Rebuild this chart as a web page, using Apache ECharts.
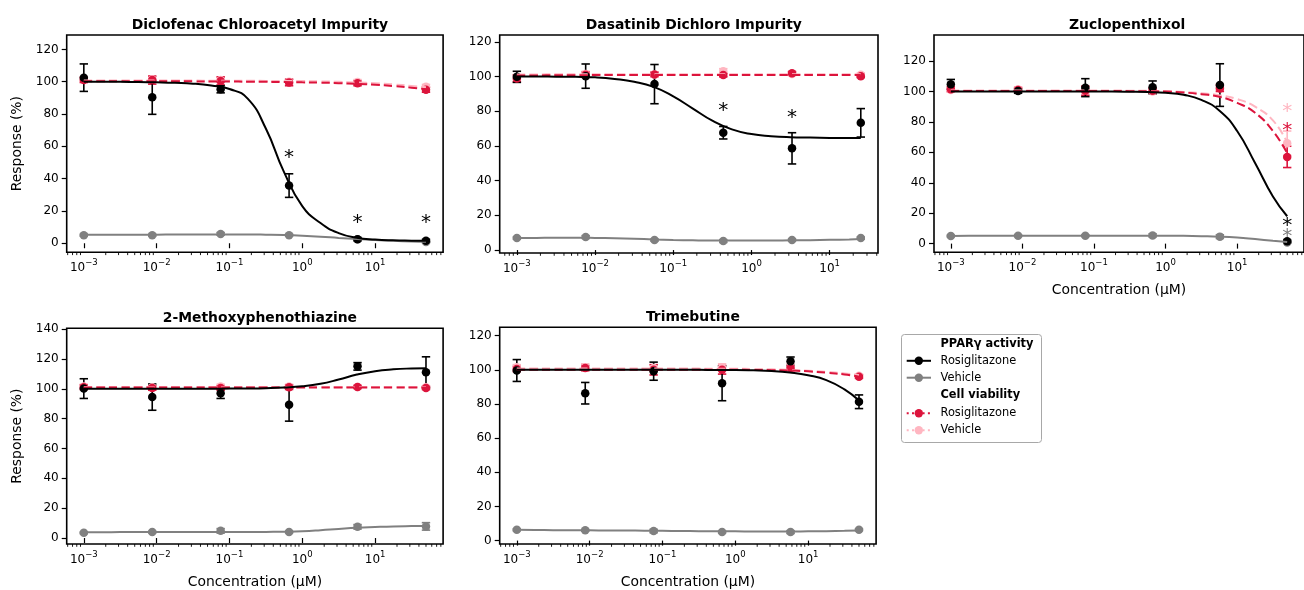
<!DOCTYPE html>
<html><head><meta charset="utf-8">
<script src="https://cdn.jsdelivr.net/npm/echarts@6/dist/echarts.min.js"></script>
<style>html,body{margin:0;padding:0;background:#fff}#c{width:1304px;height:590px}</style>
</head><body><div id="c"></div>
<script>
// ---------------- data ----------------
const concA = [0.001, 0.0087, 0.0757, 0.659, 5.74, 50];
const concB = [0.001, 0.00758, 0.0575, 0.436, 3.30, 25];
const curveXA = [0.001, 0.00178, 0.00316, 0.00562, 0.01, 0.0178, 0.0316, 0.0562, 0.1, 0.178, 0.316, 0.562, 1, 1.78, 3.16, 5.62, 10, 17.8, 31.6, 50];
const curveXB = [0.001, 0.00178, 0.00316, 0.00562, 0.01, 0.0178, 0.0316, 0.0562, 0.1, 0.178, 0.316, 0.562, 1, 1.78, 3.16, 5.62, 10, 17.8, 25];
const yTicks120 = [0, 20, 40, 60, 80, 100, 120];
const yTicks140 = [0, 20, 40, 60, 80, 100, 120, 140];
const xTickExponents = [-3, -2, -1, 0, 1];

// Diclofenac Chloroacetyl Impurity
const diclo_pparRosi = [102.5, 90.3, 95.3, 35.7, 2.5, 1.6];
const diclo_pparRosiErr = [8.5, 10.5, 2.2, 7.3, 1.0, 0.8];
const diclo_pparVeh = [5.0, 5.0, 5.8, 5.0, 2.5, 0.8];
const diclo_pparVehErr = [0.6, 0.6, 0.8, 0.6, 0.5, 0.5];
const diclo_viaRosi = [101.0, 101.0, 100.5, 99.5, 99.0, 95.0];
const diclo_viaRosiErr = [1.5, 2.5, 2.5, 2.0, 1.5, 1.5];
const diclo_viaVeh = [101.5, 101.5, 101.0, 100.0, 99.8, 96.8];
const diclo_viaVehErr = [1.5, 1.5, 1.5, 1.5, 1.5, 1.5];
const diclo_fitPparRosi = [100, 100, 99.9, 99.8, 99.6, 99.3, 98.8, 97.6, 95.5, 89.5, 71, 44, 23, 12.5, 6.3, 3.4, 2.3, 1.8, 1.6, 1.5];
const diclo_fitPparVeh = [5.2, 5.2, 5.3, 5.3, 5.3, 5.4, 5.4, 5.4, 5.4, 5.4, 5.3, 5.1, 4.7, 4.1, 3.3, 2.6, 2.0, 1.5, 1.1, 0.9];
const diclo_fitViaRosi = [100.3, 100.3, 100.3, 100.3, 100.3, 100.2, 100.2, 100.1, 100.1, 100.0, 99.9, 99.8, 99.6, 99.4, 99.1, 98.7, 98.1, 97.3, 96.3, 95.4];
const diclo_fitViaVeh = [100.8, 100.8, 100.8, 100.8, 100.8, 100.7, 100.7, 100.6, 100.6, 100.6, 100.5, 100.5, 100.4, 100.2, 99.9, 99.5, 99.0, 98.3, 97.4, 96.6];
const diclo_sigX = [0.659, 5.74, 50];
const diclo_sigY = [55.7, 15.5, 15.5];
const diclo_sigSeries = ['pparRosi', 'pparRosi', 'pparRosi'];

// Dasatinib Dichloro Impurity
const dasa_pparRosi = [99.8, 100.2, 95.6, 67.6, 58.6, 73.3];
const dasa_pparRosiErr = [3.2, 7.0, 11.3, 3.6, 9.0, 8.2];
const dasa_pparVeh = [6.9, 7.5, 5.8, 5.2, 5.8, 6.9];
const dasa_pparVehErr = [0.6, 0.8, 0.6, 0.8, 0.6, 0.6];
const dasa_viaRosi = [98.9, 101.0, 101.2, 100.8, 101.8, 100.2];
const dasa_viaRosiErr = [2.0, 1.5, 1.2, 1.0, 1.0, 0.8];
const dasa_viaVeh = [99.5, 101.5, 101.2, 103.0, 101.5, 101.0];
const dasa_viaVehErr = [1.5, 1.5, 1.5, 1.5, 1.0, 1.0];
const dasa_fitPparRosi = [100, 100, 99.9, 99.8, 99.5, 98.6, 97, 94, 88.5, 81.5, 74.5, 69.5, 66.8, 65.6, 65, 64.8, 64.6, 64.5, 64.5];
const dasa_fitPparVeh = [6.9, 7.0, 7.1, 7.1, 7.0, 6.8, 6.5, 6.1, 5.8, 5.6, 5.5, 5.5, 5.5, 5.5, 5.6, 5.7, 5.9, 6.1, 6.3];
const dasa_fitViaRosi = [100.6, 100.6, 100.7, 100.7, 100.8, 100.8, 100.8, 100.8, 100.8, 100.8, 100.8, 100.8, 100.8, 100.8, 100.8, 100.8, 100.8, 100.8, 100.8];
const dasa_fitViaVeh = [101.2, 101.2, 101.3, 101.3, 101.3, 101.3, 101.3, 101.3, 101.3, 101.3, 101.3, 101.3, 101.3, 101.3, 101.3, 101.3, 101.3, 101.3, 101.3];
const dasa_sigX = [0.436, 3.30];
const dasa_sigY = [82.9, 79.3];
const dasa_sigSeries = ['pparRosi', 'pparRosi'];

// Zuclopenthixol
const zuclo_pparRosi = [104.7, 100.3, 102.5, 102.7, 104.2, 1.5];
const zuclo_pparRosiErr = [3.2, 1.5, 5.9, 4.2, 14.0, 0.8];
const zuclo_pparVeh = [5.0, 5.2, 5.2, 5.4, 4.6, 0.8];
const zuclo_pparVehErr = [0.5, 0.5, 0.5, 1.0, 1.2, 0.5];
const zuclo_viaRosi = [101.5, 101.0, 100.5, 100.5, 102.0, 57.0];
const zuclo_viaRosiErr = [1.5, 1.5, 3.0, 1.5, 2.0, 7.0];
const zuclo_viaVeh = [101.0, 101.5, 100.5, 100.0, 102.7, 66.0];
const zuclo_viaVehErr = [1.5, 1.5, 1.5, 1.5, 2.0, 8.0];
const zuclo_fitPparRosi = [100, 100, 100, 100, 100, 100, 100, 99.9, 99.9, 99.9, 99.8, 99.6, 99.1, 97.8, 94.5, 87.5, 74, 53, 31, 18];
const zuclo_fitPparVeh = [5.0, 5.1, 5.1, 5.2, 5.2, 5.2, 5.2, 5.2, 5.2, 5.2, 5.2, 5.2, 5.2, 5.1, 4.9, 4.6, 4.0, 3.0, 1.9, 1.0];
const zuclo_fitViaRosi = [100.3, 100.3, 100.3, 100.3, 100.3, 100.3, 100.3, 100.3, 100.3, 100.3, 100.2, 100.1, 99.9, 99.3, 98.2, 96.5, 92.5, 86, 74, 59.5];
const zuclo_fitViaVeh = [100.6, 100.6, 100.6, 100.6, 100.6, 100.6, 100.6, 100.6, 100.6, 100.6, 100.5, 100.4, 100.2, 99.7, 98.8, 97.5, 95, 90, 81, 66.5];
const zuclo_sigX = [50, 50, 50, 50];
const zuclo_sigY = [89.7, 77.4, 15.3, 8.1];
const zuclo_sigSeries = ['viaVeh', 'viaRosi', 'pparRosi', 'pparVeh'];

// 2-Methoxyphenothiazine
const metho_pparRosi = [100.1, 94.4, 97.0, 89.3, 115.0, 111.1];
const metho_pparRosiErr = [6.6, 8.8, 3.5, 11.0, 2.5, 10.3];
const metho_pparVeh = [3.5, 4.0, 4.8, 4.0, 7.5, 7.8];
const metho_pparVehErr = [0.5, 0.5, 1.5, 0.5, 1.5, 2.5];
const metho_viaRosi = [101.0, 100.5, 100.5, 101.0, 101.2, 100.5];
const metho_viaRosiErr = [1.5, 1.5, 1.5, 1.5, 1.0, 1.0];
const metho_viaVeh = [101.5, 101.0, 101.5, 101.5, 101.2, 101.0];
const metho_viaVehErr = [1.5, 1.5, 1.5, 1.5, 1.0, 1.0];
const metho_fitPparRosi = [100, 100, 100, 100, 100, 100, 100, 100, 100.1, 100.2, 100.4, 100.8, 101.6, 103.3, 106.2, 109.5, 111.8, 113, 113.6, 113.8];
const metho_fitPparVeh = [3.9, 3.9, 4.0, 4.0, 4.0, 4.0, 4.0, 4.0, 4.0, 4.0, 4.1, 4.2, 4.5, 5.2, 6.1, 6.9, 7.4, 7.8, 8.0, 8.1];
const metho_fitViaRosi = [100.8, 100.8, 100.8, 100.8, 100.8, 100.8, 100.8, 100.8, 100.8, 100.8, 100.8, 100.8, 100.8, 100.8, 100.8, 100.8, 100.8, 100.8, 100.8, 100.8];
const metho_fitViaVeh = [101.2, 101.2, 101.2, 101.2, 101.2, 101.2, 101.2, 101.2, 101.2, 101.2, 101.2, 101.2, 101.2, 101.2, 101.2, 101.2, 101.2, 101.2, 101.2, 101.2];
const metho_sigX = [];
const metho_sigY = [];
const metho_sigSeries = [];

// Trimebutine
const trim_pparRosi = [99.6, 86.3, 99.2, 92.1, 105.0, 81.3];
const trim_pparRosiErr = [6.4, 6.3, 5.3, 10.2, 2.5, 4.0];
const trim_pparVeh = [6.3, 6.0, 5.6, 5.0, 5.0, 6.4];
const trim_pparVehErr = [0.5, 0.5, 1.0, 0.5, 0.8, 0.5];
const trim_viaRosi = [100.5, 101.0, 100.0, 100.0, 101.0, 96.0];
const trim_viaRosiErr = [1.5, 1.5, 3.0, 2.5, 1.5, 1.0];
const trim_viaVeh = [101.5, 101.5, 101.0, 101.5, 102.0, 96.5];
const trim_viaVehErr = [1.5, 2.0, 2.0, 2.0, 1.5, 1.0];
const trim_fitPparRosi = [100, 100, 100, 100, 100, 100, 100, 100, 100, 100, 100, 99.9, 99.9, 99.7, 99.3, 98.4, 96.8, 94, 88.5, 82];
const trim_fitPparVeh = [6.3, 6.2, 6.1, 6.05, 6.0, 5.95, 5.9, 5.8, 5.7, 5.6, 5.5, 5.4, 5.4, 5.3, 5.3, 5.3, 5.4, 5.5, 5.7, 5.9];
const trim_fitViaRosi = [100.1, 100.1, 100.1, 100.1, 100.1, 100.1, 100.1, 100.1, 100.1, 100.1, 100.1, 100.0, 100.0, 99.9, 99.8, 99.6, 99.1, 98.3, 97.3, 96.0];
const trim_fitViaVeh = [100.7, 100.7, 100.7, 100.7, 100.7, 100.7, 100.7, 100.7, 100.7, 100.7, 100.7, 100.6, 100.6, 100.5, 100.3, 100.0, 99.5, 98.8, 97.9, 96.8];
const trim_sigX = [];
const trim_sigY = [];
const trim_sigSeries = [];

const legendLabels = ['PPARγ activity', 'Rosiglitazone', 'Vehicle', 'Cell viability', 'Rosiglitazone', 'Vehicle'];

// ---------------- layout / style ----------------
const FONT = 'DejaVu Sans';
const COL = { pparRosi: '#000000', pparVeh: '#808080', viaRosi: '#DC143C', viaVeh: '#FFB6C1' };
const XA = [0.000582, 85.9], XB = [0.000603, 41.5];

const panels = [
  { title: 'Diclofenac Chloroacetyl Impurity', conc: concA, cx: curveXA,
    d: [diclo_pparRosi, diclo_pparRosiErr, diclo_pparVeh, diclo_pparVehErr, diclo_viaRosi, diclo_viaRosiErr, diclo_viaVeh, diclo_viaVehErr],
    f: [diclo_fitPparRosi, diclo_fitPparVeh, diclo_fitViaRosi, diclo_fitViaVeh],
    sig: [diclo_sigX, diclo_sigY, diclo_sigSeries],
    grid: { left: 66.7, top: 35, width: 376.4, height: 217.3 }, x: XA, y: [-5.6, 128.9], yt: yTicks120, yName: true, xName: false },
  { title: 'Dasatinib Dichloro Impurity', conc: concB, cx: curveXB,
    d: [dasa_pparRosi, dasa_pparRosiErr, dasa_pparVeh, dasa_pparVehErr, dasa_viaRosi, dasa_viaRosiErr, dasa_viaVeh, dasa_viaVehErr],
    f: [dasa_fitPparRosi, dasa_fitPparVeh, dasa_fitViaRosi, dasa_fitViaVeh],
    sig: [dasa_sigX, dasa_sigY, dasa_sigSeries],
    grid: { left: 499.7, top: 35, width: 378.3, height: 218 }, x: XB, y: [-1.7, 123.9], yt: yTicks120, yName: false, xName: false },
  { title: 'Zuclopenthixol', conc: concA, cx: curveXA,
    d: [zuclo_pparRosi, zuclo_pparRosiErr, zuclo_pparVeh, zuclo_pparVehErr, zuclo_viaRosi, zuclo_viaRosiErr, zuclo_viaVeh, zuclo_viaVehErr],
    f: [zuclo_fitPparRosi, zuclo_fitPparVeh, zuclo_fitViaRosi, zuclo_fitViaVeh],
    sig: [zuclo_sigX, zuclo_sigY, zuclo_sigSeries],
    grid: { left: 934, top: 35, width: 376.4, height: 217.3 }, x: XA, y: [-5.7, 137.1], yt: yTicks120, yName: false, xName: true },
  { title: '2-Methoxyphenothiazine', conc: concA, cx: curveXA,
    d: [metho_pparRosi, metho_pparRosiErr, metho_pparVeh, metho_pparVehErr, metho_viaRosi, metho_viaRosiErr, metho_viaVeh, metho_viaVehErr],
    f: [metho_fitPparRosi, metho_fitPparVeh, metho_fitViaRosi, metho_fitViaVeh],
    sig: [metho_sigX, metho_sigY, metho_sigSeries],
    grid: { left: 66.7, top: 328.3, width: 376.4, height: 218.4 }, x: XA, y: [-4.0, 140.5], yt: yTicks140, yName: true, xName: true },
  { title: 'Trimebutine', conc: concA, cx: curveXA,
    d: [trim_pparRosi, trim_pparRosiErr, trim_pparVeh, trim_pparVehErr, trim_viaRosi, trim_viaRosiErr, trim_viaVeh, trim_viaVehErr],
    f: [trim_fitPparRosi, trim_fitPparVeh, trim_fitViaRosi, trim_fitViaVeh],
    sig: [trim_sigX, trim_sigY, trim_sigSeries],
    grid: { left: 499.7, top: 327.3, width: 376.4, height: 219.4 }, x: XA, y: [-2.0, 124.9], yt: yTicks120, yName: false, xName: true }
];

function logLabel(v) {
  const e = Math.log10(v), r = Math.round(e);
  if (Math.abs(e - r) > 1e-6 || xTickExponents.indexOf(r) < 0) return '';
  const s = r < 0 ? '\u2212' + (-r) : String(r);
  return '{b|10}{s|' + s + '}';
}

function errRender(color) {
  return function (params, api) {
    const x = api.value(0), y = api.value(1), e = api.value(2);
    const t = api.coord([x, y + e]), b = api.coord([x, y - e]);
    const w = 4.2, st = { stroke: color, lineWidth: 1.6 };
    return { type: 'group', children: [
      { type: 'line', shape: { x1: t[0], y1: t[1], x2: b[0], y2: b[1] }, style: st },
      { type: 'line', shape: { x1: t[0] - w, y1: t[1], x2: t[0] + w, y2: t[1] }, style: st },
      { type: 'line', shape: { x1: b[0] - w, y1: b[1], x2: b[0] + w, y2: b[1] }, style: st }
    ] };
  };
}

const grids = [], xAxes = [], yAxes = [], series = [], titles = [];
panels.forEach((p, i) => {
  grids.push(Object.assign({ show: true, borderColor: '#000', borderWidth: 1.6, backgroundColor: 'transparent', containLabel: false }, p.grid));
  titles.push({ text: p.title, left: p.grid.left + p.grid.width / 2, top: p.grid.top - 21.5, textAlign: 'center',
    textStyle: { fontFamily: FONT, fontSize: 13.9, fontWeight: 'bold', color: '#000' } });
  xAxes.push({ type: 'log', logBase: 10, gridIndex: i, min: p.x[0], max: p.x[1],
    axisLine: { show: false }, splitLine: { show: false },
    axisTick: { show: true, length: 5, lineStyle: { color: '#000', width: 1.2 } },
    axisLabel: { show: true, margin: 6, formatter: logLabel, showMinLabel: false, showMaxLabel: false,
      rich: { b: { fontFamily: FONT, fontSize: 12, color: '#000', lineHeight: 16, verticalAlign: 'bottom' },
              s: { fontFamily: FONT, fontSize: 8.5, color: '#000', lineHeight: 9, verticalAlign: 'top' } } },
    name: p.xName ? 'Concentration (μM)' : '', nameLocation: 'middle', nameGap: 31,
    nameTextStyle: { fontFamily: FONT, fontSize: 13.9, color: '#000' } });
  yAxes.push({ type: 'value', gridIndex: i, min: p.y[0], max: p.y[1],
    axisLine: { show: false }, splitLine: { show: false },
    axisTick: { show: true, length: 5, customValues: p.yt, lineStyle: { color: '#000', width: 1.2 } },
    axisLabel: { show: true, customValues: p.yt, margin: 8, fontFamily: FONT, fontSize: 12, color: '#000' },
    name: p.yName ? 'Response (%)' : '', nameLocation: 'middle', nameGap: 42, nameRotate: 90,
    nameTextStyle: { fontFamily: FONT, fontSize: 13.9, color: '#000' } });

  // minor ticks of log axis
  const minor = [];
  for (let e = -4; e <= 1; e++) for (let k = 2; k <= 9; k++) {
    const v = k * Math.pow(10, e);
    if (v > p.x[0] && v < p.x[1]) minor.push([v, p.y[0]]);
  }
  series.push({ type: 'custom', xAxisIndex: i, yAxisIndex: i, silent: true, data: minor, encode: { x: 0, y: 1 },
    renderItem: function (params, api) {
      const c = api.coord([api.value(0), api.value(1)]);
      const cs = params.coordSys, by = cs.y + cs.height;
      return { type: 'line', shape: { x1: c[0], y1: by, x2: c[0], y2: by + 2.8 }, style: { stroke: '#000', lineWidth: 0.9 } };
    } });

  const keys = ['viaVeh', 'viaRosi', 'pparVeh', 'pparRosi'];
  const dataIdx = { pparRosi: 0, pparVeh: 2, viaRosi: 4, viaVeh: 6 };
  const fitIdx = { pparRosi: 0, pparVeh: 1, viaRosi: 2, viaVeh: 3 };
  keys.forEach(k => {
    const color = COL[k], dashed = k.indexOf('via') === 0;
    const fit = p.f[fitIdx[k]];
    series.push({ type: 'line', xAxisIndex: i, yAxisIndex: i, silent: true, showSymbol: false, symbol: 'none',
      smooth: 0.5,
      data: p.cx.map((x, j) => [x, fit[j]]),
      lineStyle: { color: color, width: 2, type: dashed ? [8.5, 4] : 'solid' } });
    const m = p.d[dataIdx[k]], er = p.d[dataIdx[k] + 1];
    series.push({ type: 'custom', xAxisIndex: i, yAxisIndex: i, silent: true, encode: { x: 0, y: 1 },
      data: p.conc.map((x, j) => [x, m[j], er[j]]), renderItem: errRender(color) });
    series.push({ type: 'scatter', xAxisIndex: i, yAxisIndex: i, silent: true, symbol: 'circle', symbolSize: 8.5,
      itemStyle: { color: color, opacity: 1 }, data: p.conc.map((x, j) => [x, m[j]]) });
  });

  // significance asterisks
  const sx = p.sig[0], sy = p.sig[1], ss = p.sig[2];
  if (sx.length) series.push({ type: 'custom', xAxisIndex: i, yAxisIndex: i, silent: true, encode: { x: 0, y: 1 },
    data: sx.map((x, j) => [x, sy[j], j]),
    renderItem: function (params, api) {
      const c = api.coord([api.value(0), api.value(1)]);
      const col = COL[ss[api.value(2)]];
      return { type: 'text', x: c[0], y: c[1] + 5, style: { text: '*', fill: col, font: '20px "DejaVu Sans"',
        align: 'center', verticalAlign: 'middle', textAlign: 'center', textVerticalAlign: 'middle' } };
    } });
});

// ---------------- legend (graphic) ----------------
const LX = 901.5, LY = 334.5, rowsY = [344, 360.8, 377.7, 395.5, 413.3, 430.3];
const handleKeys = [null, 'pparRosi', 'pparVeh', null, 'viaRosi', 'viaVeh'];
const graphics = [{ type: 'rect', shape: { x: LX, y: LY, width: 140, height: 108, r: 3 },
  style: { fill: '#fff', stroke: '#a8a8a8', lineWidth: 1 }, z: 10 }];
legendLabels.forEach((t, j) => {
  const k = handleKeys[j];
  graphics.push({ type: 'text', x: 940.5, y: rowsY[j], z: 11,
    style: { text: t, fill: '#000', font: (k ? '' : 'bold ') + '11.4px "DejaVu Sans"',
      align: 'left', verticalAlign: 'middle', textAlign: 'left', textVerticalAlign: 'middle' } });
  if (k) {
    const dotted = k.indexOf('via') === 0;
    graphics.push({ type: 'line', z: 11, shape: { x1: 906.7, y1: rowsY[j], x2: 931, y2: rowsY[j] },
      style: { stroke: COL[k], lineWidth: 2, lineDash: dotted ? [2, 3.3] : null } });
    graphics.push({ type: 'circle', z: 12, shape: { cx: 918.8, cy: rowsY[j], r: 4.2 }, style: { fill: COL[k] } });
  }
});

const chart = echarts.init(document.getElementById('c'), null, { renderer: 'canvas' });
chart.setOption({
  animation: false, backgroundColor: '#fff',
  title: titles, grid: grids, xAxis: xAxes, yAxis: yAxes, series: series, graphic: graphics
});
</script></body></html>
